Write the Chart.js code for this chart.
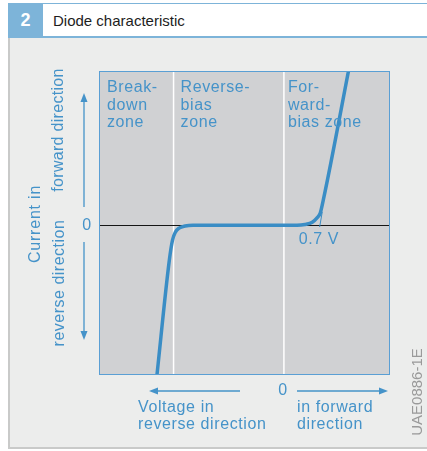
<!DOCTYPE html>
<html>
<head>
<meta charset="utf-8">
<script src="https://cdn.jsdelivr.net/npm/chart.js@4"></script>
<style>
    body { margin: 0; width: 427px; height: 451px; background: #fff; position: relative; overflow: hidden; font-family: "Liberation Sans", Arial, sans-serif; }
    .head { position: absolute; left: 8px; top: 3px; right: 0; height: 32px; border-top: 1px solid #7db4d9; border-bottom: 2px solid #7db4d9; background: #fff; }
    .head .num { position: absolute; left: 0; top: 0; width: 35px; height: 32px; background: #7db4d9; color: #fff; font-weight: bold; font-size: 18px; line-height: 33px; text-align: center; }
    .head .title { position: absolute; left: 45px; top: 0; line-height: 33px; font-size: 15px; color: #1d1d1d; }
    .panel { position: absolute; left: 8px; top: 38px; right: 0; bottom: 2px; background: #ecedec; border-left: 2px solid #c9cac9; border-bottom: 2px solid #c9cac9; }
    .wrap { position: absolute; left: 0; top: 0; width: 427px; height: 451px; }
</style>
</head>
<body>
<div class="head"><div class="num">2</div><div class="title">Diode characteristic</div></div>
<div class="panel"></div>
<div class="wrap"><canvas id="chart"></canvas></div>
<script>
    // diode curve, voltage (V) vs current (arbitrary units)
    const voltage = [-2.42, -2.18, -2.12, -2.065, -1.995, -1.88, -1.73, 0.25, 0.40, 0.54, 0.63, 0.69, 0.75, 1.262];
    const current = [-1.02, -0.234, -0.10, -0.046, -0.019, -0.005, 0, 0, 0.005, 0.02, 0.05, 0.08, 0.17, 1.097];

    // tangent marking the 0.7 V threshold
    const thresholdV = [0.68, 0.73];
    const thresholdI = [-0.012, 0.09];

    // zone boundaries and zone names
    const zoneBounds = [-2.1, 0];
    const zoneStarts = [-3.5, -2.1, 0];
    const zoneLabels = [["Break-", "down", "zone"], ["Reverse-", "bias", "zone"], ["For-", "ward-", "bias zone"]];

    const BLUE = '#4593c9';
    const FONT = '"Liberation Sans", Arial, sans-serif';

    const toPoints = (xs, ys) => xs.map((v, i) => ({x: v, y: ys[i]}));

    function arrow(ctx, x1, y1, x2, y2) {
        const ang = Math.atan2(y2 - y1, x2 - x1);
        const len = 9, half = 3.5;
        ctx.beginPath();
        ctx.moveTo(x1, y1);
        ctx.lineTo(x2 - Math.cos(ang) * len, y2 - Math.sin(ang) * len);
        ctx.stroke();
        ctx.beginPath();
        ctx.moveTo(x2, y2);
        ctx.lineTo(x2 - Math.cos(ang) * len - Math.sin(ang) * half, y2 - Math.sin(ang) * len + Math.cos(ang) * half);
        ctx.lineTo(x2 - Math.cos(ang) * len + Math.sin(ang) * half, y2 - Math.sin(ang) * len - Math.cos(ang) * half);
        ctx.closePath();
        ctx.fill();
    }

    const diagram = {
        id: 'diagram',
        beforeDatasetsDraw(chart) {
            const {ctx, chartArea: a, scales: {x, y}} = chart;
            ctx.save();
            ctx.fillStyle = '#d0d1d3';
            ctx.fillRect(a.left, a.top, a.width, a.height);

            ctx.strokeStyle = '#ffffff';
            ctx.lineWidth = 1.5;
            zoneBounds.forEach(v => {
                const px = x.getPixelForValue(v);
                ctx.beginPath();
                ctx.moveTo(px, a.top);
                ctx.lineTo(px, a.bottom);
                ctx.stroke();
            });

            const py = Math.round(y.getPixelForValue(0)) + 0.5;
            ctx.strokeStyle = '#151515';
            ctx.lineWidth = 1.2;
            ctx.beginPath();
            ctx.moveTo(a.left, py);
            ctx.lineTo(a.right, py);
            ctx.stroke();
            ctx.restore();
        },
        afterDraw(chart) {
            const {ctx, chartArea: a, scales: {x, y}} = chart;
            ctx.save();

            // frame
            ctx.strokeStyle = '#5a9fd4';
            ctx.lineWidth = 1;
            ctx.strokeRect(a.left - 0.5, a.top - 0.5, a.width + 1, a.height + 1);

            ctx.fillStyle = BLUE;
            ctx.strokeStyle = BLUE;
            ctx.font = '16px ' + FONT;
            ctx.textBaseline = 'middle';
            ctx.letterSpacing = '0.6px';

            // zone names
            ctx.textAlign = 'left';
            const pads = [7, 7, 4];
            zoneLabels.forEach((lines, i) => {
                const px = x.getPixelForValue(zoneStarts[i]) + pads[i];
                lines.forEach((t, j) => ctx.fillText(t, px, a.top + 16 + j * 17.5));
            });

            const y0 = y.getPixelForValue(0);
            const x0 = x.getPixelForValue(0);

            // threshold label
            ctx.fillText('0.7 V', x.getPixelForValue(0.7) - 22, y0 + 14);

            // current axis
            ctx.textAlign = 'center';
            ctx.fillText('0', 87, y0);
            ctx.lineWidth = 1.3;
            arrow(ctx, 84, 207, 84, 93);
            arrow(ctx, 84, 242, 84, 340);

            const rot = (t, cx, cy) => {
                ctx.save();
                ctx.translate(cx, cy);
                ctx.rotate(-Math.PI / 2);
                ctx.fillText(t, 0, 0);
                ctx.restore();
            };
            ctx.letterSpacing = '0.3px';
            rot('forward direction', 59, 130);
            ctx.letterSpacing = '0.8px';
            rot('Current in', 36, 224);
            ctx.letterSpacing = '0.5px';
            rot('reverse direction', 60, 283);
            ctx.letterSpacing = '0.6px';

            // voltage axis
            const yb = a.bottom + 17;
            ctx.fillText('0', x0 - 1, yb);
            arrow(ctx, 240, yb, 149, yb);
            arrow(ctx, 297, yb, 388, yb);
            ctx.textAlign = 'left';
            ctx.fillText('Voltage in', 138, yb + 17);
            ctx.fillText('reverse direction', 138, yb + 34);
            ctx.fillText('in forward', 297, yb + 17);
            ctx.fillText('direction', 297, yb + 34);

            // figure code
            ctx.letterSpacing = '0px';
            ctx.fillStyle = '#9a9a9a';
            ctx.font = '15px ' + FONT;
            ctx.textAlign = 'center';
            rot('UAE0886-1E', 418, 392);
            ctx.restore();
        }
    };

    new Chart(document.getElementById('chart'), {
        type: 'line',
        data: {
            datasets: [
                {
                    data: toPoints(voltage, current),
                    borderColor: '#3a8dc5',
                    borderWidth: 3.5,
                    pointRadius: 0,
                    cubicInterpolationMode: 'monotone',
                    clip: 0
                },
                {
                    data: toPoints(thresholdV, thresholdI),
                    borderColor: '#3a8dc5',
                    borderWidth: 1,
                    pointRadius: 0,
                    clip: 0
                }
            ]
        },
        options: {
            responsive: true,
            maintainAspectRatio: false,
            devicePixelRatio: 1,
            animation: false,
            layout: {padding: {left: 100, top: 72, right: 38, bottom: 77}},
            plugins: {legend: {display: false}, tooltip: {enabled: false}},
            scales: {
                x: {type: 'linear', min: -3.5, max: 2.0, display: false},
                y: {type: 'linear', min: -1.0, max: 1.03, display: false}
            }
        },
        plugins: [diagram]
    });
</script>
</body>
</html>
